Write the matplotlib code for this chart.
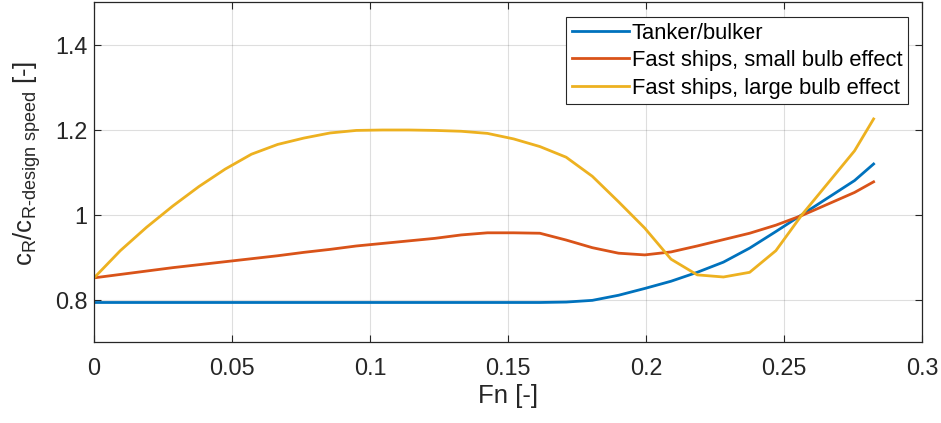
import matplotlib
matplotlib.use("Agg")
import matplotlib.pyplot as plt
from matplotlib.ticker import FuncFormatter

plt.rcParams['font.family'] = ['Liberation Sans', 'DejaVu Sans']
plt.rcParams['mathtext.fontset'] = 'custom'
plt.rcParams['mathtext.rm'] = 'Liberation Sans'

# Froude number samples
fn = [0, 0.0095, 0.019, 0.0285, 0.038, 0.0475, 0.057, 0.0665, 0.076, 0.0855,
      0.095, 0.1045, 0.114, 0.1235, 0.133, 0.1425, 0.152, 0.1615, 0.171, 0.1805,
      0.19, 0.1995, 0.209, 0.2185, 0.228, 0.2375, 0.247, 0.2565, 0.266, 0.2755,
      0.2824]

tanker = [0.793, 0.793, 0.793, 0.793, 0.793, 0.793, 0.793, 0.793, 0.793, 0.793,
          0.793, 0.793, 0.793, 0.793, 0.793, 0.793, 0.793, 0.793, 0.794, 0.798,
          0.810, 0.826, 0.843, 0.864, 0.888, 0.921, 0.960, 1.000, 1.040, 1.080,
          1.119]

small_bulb = [0.851, 0.859, 0.867, 0.875, 0.882, 0.889, 0.896, 0.903, 0.911, 0.918,
              0.926, 0.932, 0.938, 0.944, 0.952, 0.957, 0.957, 0.956, 0.940, 0.922,
              0.909, 0.905, 0.912, 0.926, 0.941, 0.956, 0.975, 0.998, 1.025, 1.052,
              1.077]

large_bulb = [0.851, 0.915, 0.970, 1.020, 1.066, 1.107, 1.142, 1.165, 1.180, 1.192,
              1.198, 1.199, 1.199, 1.198, 1.196, 1.191, 1.178, 1.160, 1.135, 1.090,
              1.030, 0.968, 0.895, 0.858, 0.853, 0.864, 0.915, 1.000, 1.075, 1.150,
              1.225]

labels = ['Tanker/bulker', 'Fast ships, small bulb effect', 'Fast ships, large bulb effect']
colors = ['#0072BD', '#D95319', '#EDB120']

fig = plt.figure(figsize=(9.41, 4.23), dpi=100)
ax = fig.add_axes([0.100, 0.1915, 0.880, 0.8035])

for ys, lab, c in zip([tanker, small_bulb, large_bulb], labels, colors):
    ax.plot(fn, ys, color=c, lw=2.0, label=lab)

ax.set_xlim(0, 0.3)
ax.set_ylim(0.7, 1.5)
ax.set_xticks([0, 0.05, 0.1, 0.15, 0.2, 0.25, 0.3])
ax.set_yticks([0.8, 1.0, 1.2, 1.4])
fmt = FuncFormatter(lambda v, p: '%g' % round(v, 4))
ax.xaxis.set_major_formatter(fmt)
ax.yaxis.set_major_formatter(fmt)

ax.grid(True, color='#262626', alpha=0.15, lw=0.8)
ax.tick_params(direction='in', length=5, width=0.8, colors='#262626',
               labelsize=16.8, top=True, right=True)
ax.tick_params(axis='x', pad=11)
ax.tick_params(axis='y', pad=5)
for sp in ax.spines.values():
    sp.set_color('#262626')
    sp.set_linewidth(0.9)

ax.set_xlabel('Fn [-]', fontsize=18.5, color='#262626', labelpad=3)
ax.set_ylabel(r'$\mathregular{c_R/c_{R\text{-}design\ speed}}$ [-]', fontsize=18.5,
              color='#262626')
ax.yaxis.set_label_coords(-0.062, 0.525)

leg = ax.legend(loc='upper right', bbox_to_anchor=(0.983, 0.956), borderaxespad=0,
                fontsize=15.8, frameon=True, fancybox=False, framealpha=1,
                edgecolor='#262626', handlelength=2.6, handletextpad=0.15,
                labelspacing=0.3, borderpad=0.25)
leg.get_frame().set_linewidth(0.8)

fig.savefig('out.png', dpi=100)
